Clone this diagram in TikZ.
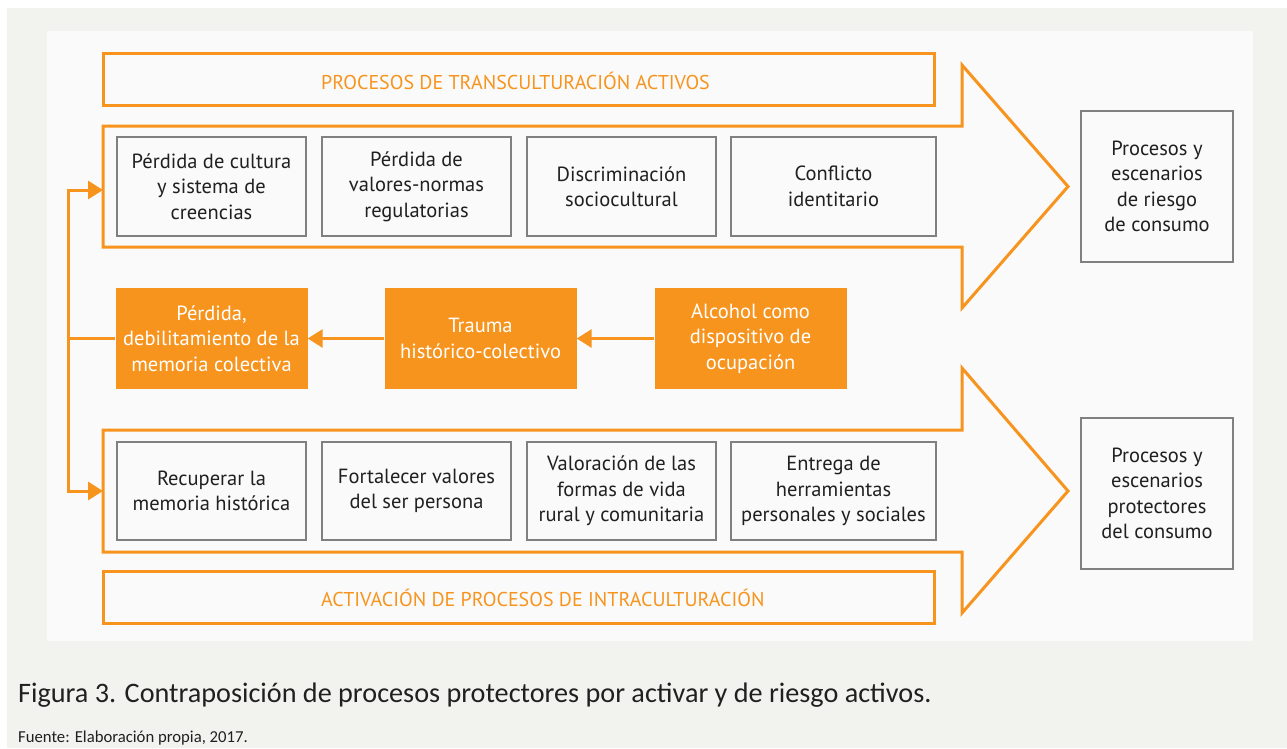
\documentclass[tikz,border=0pt]{standalone}
\usepackage{fontspec}
\setmainfont{PT Sans}
\newfontfamily\capfont{Carlito}
\usepackage{tikz}
\usetikzlibrary{arrows.meta}

\definecolor{naranja}{RGB}{247,148,30}
\definecolor{gris}{RGB}{128,128,128}
\definecolor{texto}{RGB}{32,32,32}
\definecolor{fondo}{RGB}{242,242,238}
\definecolor{panel}{RGB}{250,250,250}

\begin{document}
\begin{tikzpicture}[x=1pt,y=-1pt,
	caja/.style={draw=gris, line width=1.5pt, fill=panel, inner sep=0pt, align=center,
		text=texto, font=\fontsize{20.5}{25.5}\selectfont, minimum height=99pt},
	cajanar/.style={fill=naranja, inner sep=0pt, align=center, text=white,
		font=\fontsize{20.5}{25.5}\selectfont, minimum width=192pt, minimum height=101pt},
	titulo/.style={draw=naranja, line width=3pt, fill=panel, minimum width=831pt, minimum height=52pt},
	titutexto/.style={anchor=west, inner sep=0pt, text=naranja, font=\fontsize{20}{24}\selectfont},
	flecha/.style={draw=naranja, line width=3pt},
	punta/.style={-{Triangle[length=15pt,width=18pt]}}]
	\useasboundingbox (0,0) rectangle (1287,748);
	\fill[fondo] (7,8) rectangle (1287,748);
	\fill[panel] (47,31) rectangle (1253,641);

	% grandes flechas
	\draw[flecha, fill=panel] (103,126) -- (962,126) -- (962,65) -- (1068,186.5) -- (962,308) -- (962,247) -- (103,247) -- cycle;
	\draw[flecha, fill=panel] (103,430) -- (962,430) -- (962,368) -- (1068,491) -- (962,613) -- (962,552) -- (103,552) -- cycle;

	% titulos
	\node[titulo] (ttop) at (518.5,79) {};
	\node[titutexto] (ttoptxt) at (321,81) {PROCESOS DE TRANSCULTURACIÓN ACTIVOS};
	\node[titulo] (tbot) at (518.5,597) {};
	\node[titutexto] (tbottxt) at (321,598) {ACTIVACIÓN DE PROCESOS DE INTRACULTURACIÓN};

	% riesgo
	\node[caja, minimum width=189pt] (r1) at (211.5,186.5) {Pérdida de cultura\\y sistema de\\creencias};
	\node[caja, minimum width=189pt] (r2) at (416.5,186.5) {Pérdida de\\valores-normas\\regulatorias};
	\node[caja, minimum width=189pt] (r3) at (621.5,186.5) {Discriminación\\sociocultural};
	\node[caja, minimum width=205pt] (r4) at (833.5,186.5) {Conflicto\\identitario};
	\node[caja, minimum width=152pt, minimum height=151pt] (riesgo) at (1157,186.5) {Procesos y\\escenarios\\de riesgo\\de consumo};

	% proteccion
	\node[caja, minimum width=189pt, minimum height=98pt] (p1) at (211.5,491) {Recuperar la\\memoria histórica};
	\node[caja, minimum width=189pt, minimum height=98pt] (p2) at (416.5,491) {Fortalecer valores\\del ser persona};
	\node[caja, minimum width=189pt, minimum height=98pt] (p3) at (621.5,491) {Valoración de las\\formas de vida\\rural y comunitaria};
	\node[caja, minimum width=205pt, minimum height=98pt] (p4) at (833.5,491) {Entrega de\\herramientas\\personales y sociales};
	\node[caja, minimum width=152pt, minimum height=151pt] (protec) at (1157,493.5) {Procesos y\\escenarios\\protectores\\del consumo};

	% centro
	\node[cajanar] (memoria) at (211.5,338.5) {Pérdida,\\debilitamiento de la\\memoria colectiva};
	\node[cajanar] (trauma) at (480.5,338.5) {Trauma\\histórico-colectivo};
	\node[cajanar] (alcohol) at (750.5,338.5) {Alcohol como\\dispositivo de\\ocupación};

	\draw[flecha, punta] (alcohol) -- (trauma);
	\draw[flecha, punta] (trauma) -- (memoria);

	\coordinate (esq) at (68,338.5);
	\coordinate (earr) at (103,190);
	\coordinate (eaba) at (103,491);
	\draw[flecha] (memoria) -- (esq);
	\draw[flecha, punta] (esq) |- (earr);
	\draw[flecha, punta] (esq) |- (eaba);

	% pie
	\node[anchor=west, inner sep=0pt, text=texto, font=\capfont\fontsize{28.2}{30}\selectfont] (fig) at (18,695)
		{Figura 3. Contraposición de procesos protectores por activar y de riesgo activos.};
	\node[anchor=west, inner sep=0pt, text=texto, font=\capfont\fontsize{16.7}{18}\selectfont] (fuente) at (18,738)
		{Fuente: Elaboración propia, 2017.};
\end{tikzpicture}
\end{document}
